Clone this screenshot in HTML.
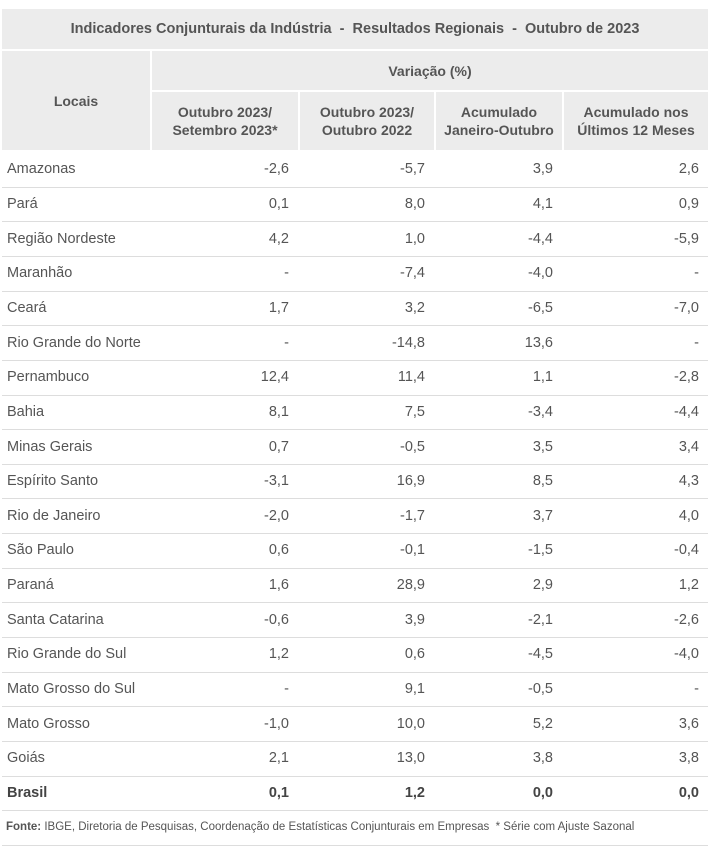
<!DOCTYPE html>
<html><head><meta charset="utf-8"><style>
body{margin:0;width:712px;height:850px;background:#fff;font-family:"Liberation Sans",sans-serif;color:#555;position:relative;overflow:hidden}
.c{position:absolute;box-sizing:border-box;display:flex;align-items:center;font-size:14.5px}
.h{background:#ececec;font-weight:bold;justify-content:center;text-align:center;line-height:18px;color:#555;font-size:14px}
.line{position:absolute;left:2px;width:706px;height:1px;background:#ddd}
.r{justify-content:flex-end;padding-right:9px}
.l{padding-left:5px}
.b{font-weight:bold;color:#444}
</style></head><body>
<div class="c h" style="left:2px;top:9px;width:706px;height:40px;font-size:14.5px">Indicadores Conjunturais da Indústria&nbsp; - &nbsp;Resultados Regionais&nbsp; - &nbsp;Outubro de 2023</div>
<div class="c h" style="left:2px;top:51px;width:148px;height:99px">Locais</div>
<div class="c h" style="left:152px;top:51px;width:556px;height:39px">Variação (%)</div>
<div class="c h" style="left:152px;top:92px;width:146px;height:58px">Outubro 2023/<br>Setembro 2023*</div>
<div class="c h" style="left:300px;top:92px;width:134px;height:58px">Outubro 2023/<br>Outubro 2022</div>
<div class="c h" style="left:436px;top:92px;width:126px;height:58px">Acumulado<br>Janeiro-Outubro</div>
<div class="c h" style="left:564px;top:92px;width:144px;height:58px">Acumulado nos<br>Últimos 12 Meses</div>
<div id="rows"></div>
<div class="c" style="left:6px;top:816px;height:22px;font-size:11.5px;color:#555"><b>Fonte:</b>&nbsp;IBGE, Diretoria de Pesquisas, Coordenação de Estatísticas Conjunturais em Empresas&nbsp; * Série com Ajuste Sazonal</div>
<div class="line" style="top:845px"></div>
<script>
const locais=["Amazonas","Pará","Região Nordeste","Maranhão","Ceará","Rio Grande do Norte","Pernambuco","Bahia","Minas Gerais","Espírito Santo","Rio de Janeiro","São Paulo","Paraná","Santa Catarina","Rio Grande do Sul","Mato Grosso do Sul","Mato Grosso","Goiás","Brasil"];
const outSet=["-2,6","0,1","4,2","-","1,7","-","12,4","8,1","0,7","-3,1","-2,0","0,6","1,6","-0,6","1,2","-","-1,0","2,1","0,1"];
const outOut=["-5,7","8,0","1,0","-7,4","3,2","-14,8","11,4","7,5","-0,5","16,9","-1,7","-0,1","28,9","3,9","0,6","9,1","10,0","13,0","1,2"];
const acumAno=["3,9","4,1","-4,4","-4,0","-6,5","13,6","1,1","-3,4","3,5","8,5","3,7","-1,5","2,9","-2,1","-4,5","-0,5","5,2","3,8","0,0"];
const acum12=["2,6","0,9","-5,9","-","-7,0","-","-2,8","-4,4","3,4","4,3","4,0","-0,4","1,2","-2,6","-4,0","-","3,6","3,8","0,0"];
const cols=[[2,148],[152,146],[300,134],[436,126],[564,144]];
const root=document.getElementById('rows');
const rh=34.65,top0=152;
locais.forEach((n,i)=>{
  const y=top0+i*rh;
  const vals=[n,outSet[i],outOut[i],acumAno[i],acum12[i]];
  vals.forEach((v,j)=>{
    const d=document.createElement('div');
    d.className='c '+(j==0?'l':'r')+(i==locais.length-1?' b':'');
    d.style.left=cols[j][0]+'px';d.style.width=cols[j][1]+'px';
    d.style.top=y+'px';d.style.height=rh+'px';
    d.textContent=v;
    
    
    root.appendChild(d);
  });
  const ln=document.createElement('div');
  ln.className='line';ln.style.top=Math.round(y+rh)+'px';
  
  
  root.appendChild(ln);
});
</script>
</body></html>
